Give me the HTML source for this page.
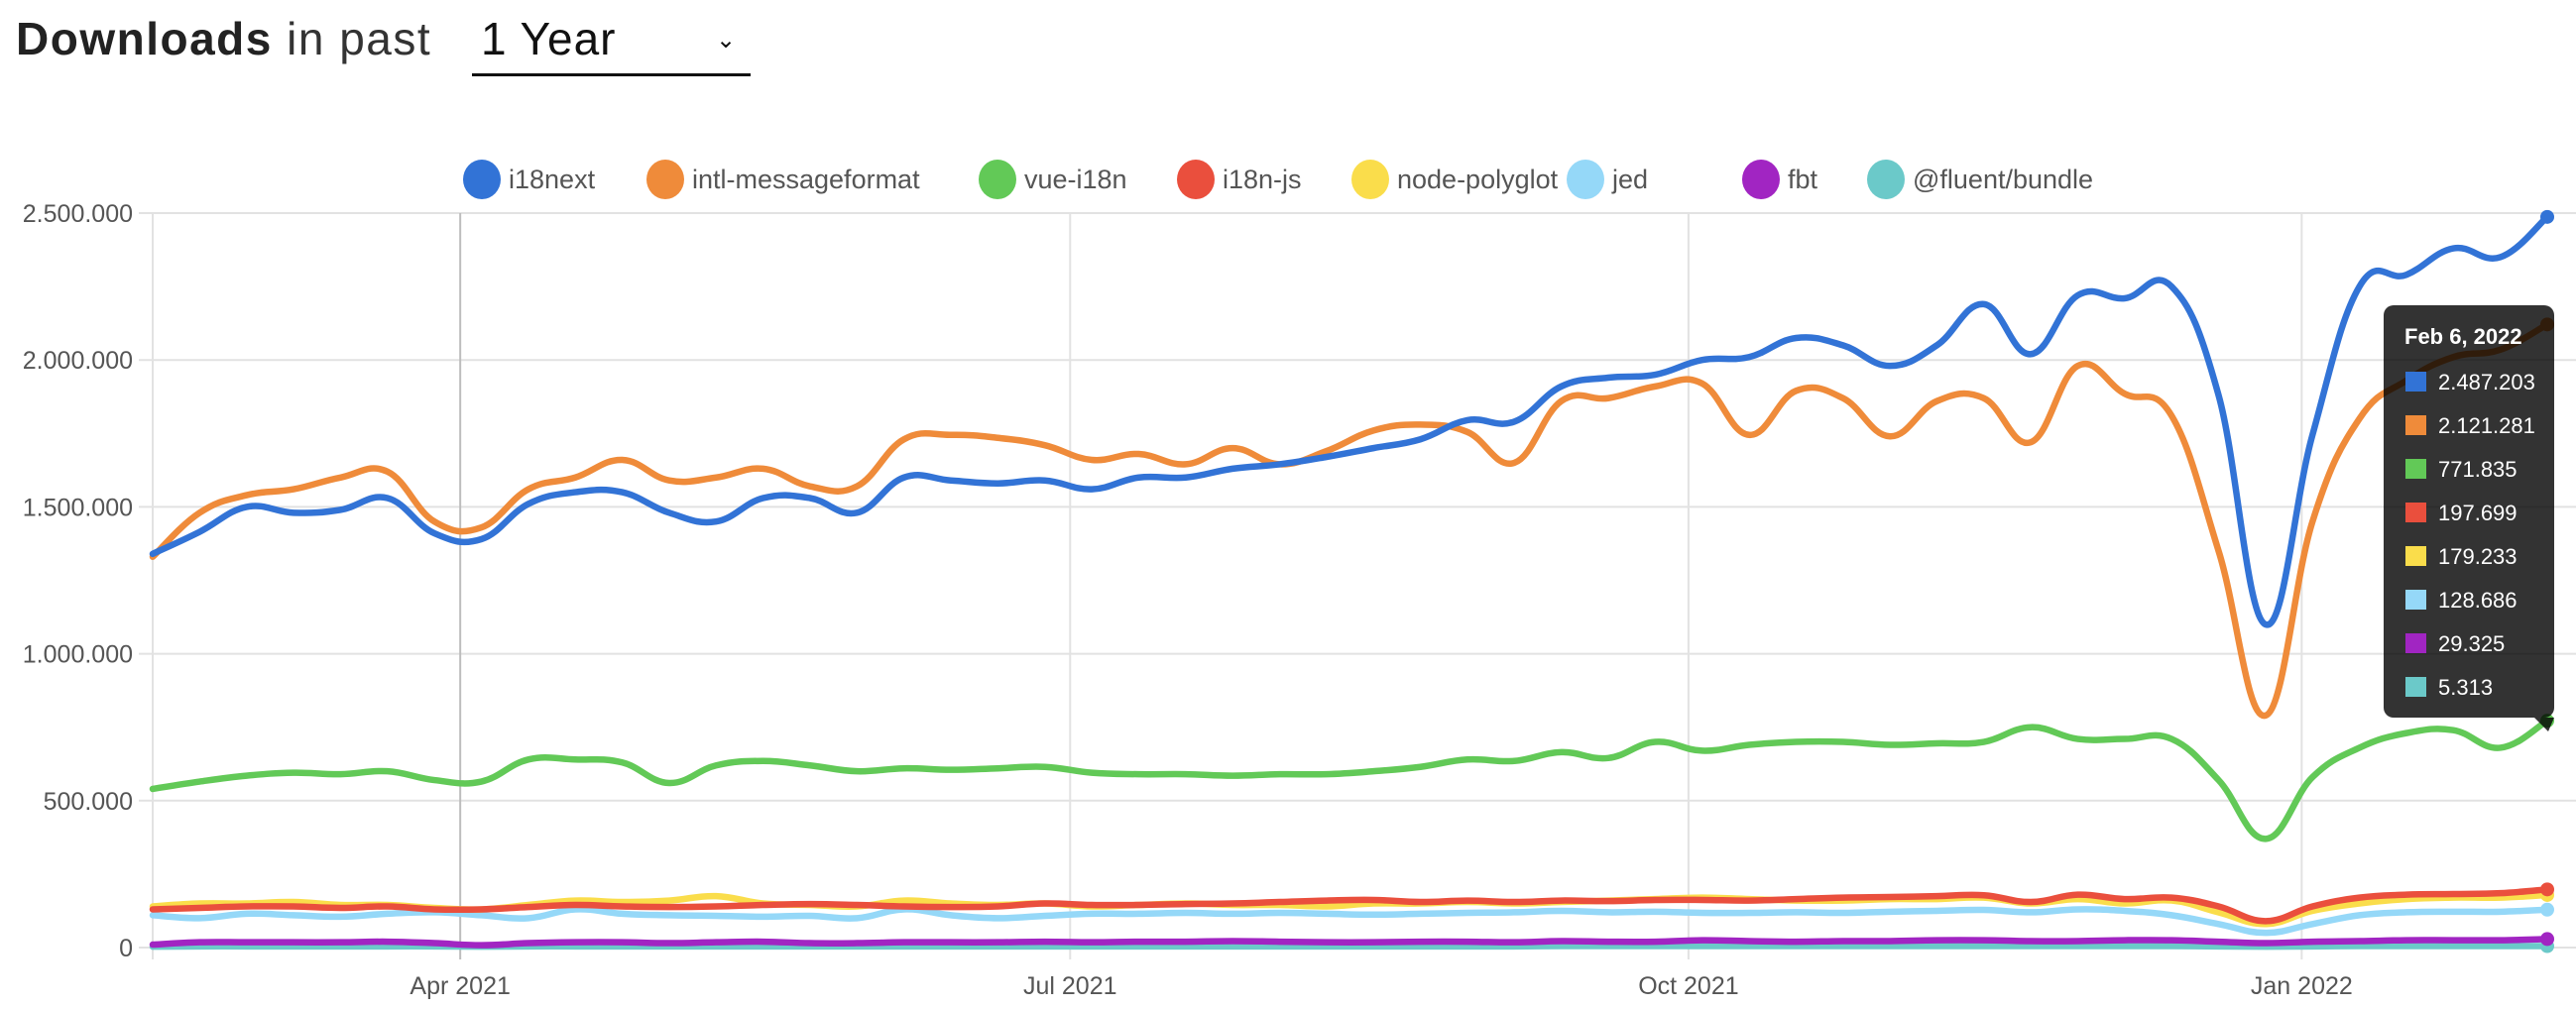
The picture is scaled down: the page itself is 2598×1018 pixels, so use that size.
<!DOCTYPE html>
<html><head><meta charset="utf-8">
<style>
html,body{margin:0;padding:0;background:#fff;width:2598px;height:1018px;overflow:hidden;font-family:"Liberation Sans",sans-serif;}
#title{position:absolute;left:16px;top:12px;font-size:46px;color:#222;letter-spacing:1.5px;white-space:nowrap}
#title b{font-weight:600}
#title .light{font-weight:300;color:#333}
#sel{position:absolute;left:476px;top:10px;width:281px;height:64px;border-bottom:3px solid #111;font-size:46px;color:#111;}
#sel span.t{position:absolute;left:9px;top:2px;letter-spacing:1px}
#sel span.c{position:absolute;left:246px;top:16px;font-size:24px}
svg{position:absolute;left:0;top:0}
</style></head><body>
<div id="title"><b>Downloads</b> <span class="light">in past</span></div>
<div id="sel"><span class="t">1 Year</span><span class="c">&#8964;</span></div>
<svg id="chart" width="2598" height="1018"></svg>
<script>
const seriesNames=["i18next","intl-messageformat","vue-i18n","i18n-js","node-polyglot","jed","fbt","@fluent/bundle"];
const seriesColors=["#3273d6","#ef8b3a","#62c957","#ea4f3d","#fadd4b","#95d8f8","#a125c2","#6bc9c9"];
const i18next=[1340,1415,1500,1480,1490,1530,1410,1390,1510,1550,1550,1480,1450,1530,1530,1480,1600,1590,1580,1590,1560,1600,1600,1630,1645,1670,1700,1730,1795,1790,1910,1940,1950,2000,2010,2075,2050,1980,2050,2190,2020,2220,2210,2250,1880,1100,1745,2250,2290,2380,2350,2487];
const intlMessageformat=[1330,1480,1540,1560,1600,1620,1450,1430,1560,1600,1660,1590,1600,1630,1570,1570,1730,1745,1735,1710,1660,1680,1645,1700,1645,1690,1760,1780,1755,1650,1860,1870,1910,1920,1745,1895,1870,1740,1860,1870,1720,1980,1885,1810,1350,790,1450,1800,1930,2010,2035,2121];
const vueI18n=[540,565,585,595,590,600,570,565,640,640,630,560,620,635,620,600,610,605,610,615,595,590,590,585,590,590,600,615,640,635,665,645,700,670,690,700,700,690,695,700,750,710,710,710,570,370,580,680,730,740,680,772];
const i18nJs=[130,135,140,140,135,140,130,130,138,145,140,138,140,145,148,145,140,138,140,150,145,145,148,150,155,160,162,155,160,155,160,158,162,162,160,165,170,172,175,178,155,180,165,170,140,90,140,170,180,182,185,198];
const nodePolyglot=[140,150,150,155,145,145,135,130,145,160,155,160,175,150,145,140,160,150,145,150,140,145,150,145,145,140,150,150,155,150,155,160,165,170,165,160,160,165,165,170,150,165,150,160,120,80,125,150,165,170,170,179];
const jed=[110,100,115,110,105,115,120,110,100,130,115,110,108,105,108,100,130,110,100,108,115,115,118,115,118,115,112,115,118,120,125,120,122,118,118,120,118,122,125,128,120,130,125,110,80,50,80,110,120,122,122,129];
const fbt=[10,18,18,18,18,20,15,8,15,18,18,15,18,20,15,15,18,18,18,20,18,20,20,22,20,18,18,20,20,18,22,20,20,25,22,20,22,22,25,25,22,22,25,25,20,15,20,22,25,25,25,29];
const fluentBundle=[3,4,4,4,4,4,4,3,4,4,4,4,4,4,4,4,4,4,4,4,4,4,4,4,4,4,4,4,4,4,5,5,5,5,5,5,5,5,5,5,5,5,5,5,4,3,4,5,5,5,5,5];
const seriesData=[i18next,intlMessageformat,vueI18n,i18nJs,nodePolyglot,jed,fbt,fluentBundle];
const yTicks=[0,500000,1000000,1500000,2000000,2500000];
const yTickLabels=["0","500.000","1.000.000","1.500.000","2.000.000","2.500.000"];
const xTickWeeks=[6.55,19.54,32.71,45.77];
const xTickLabels=["Apr 2021","Jul 2021","Oct 2021","Jan 2022"];
const tooltipDate="Feb 6, 2022";
const tooltipValues=["2.487.203","2.121.281","771.835","197.699","179.233","128.686","29.325","5.313"];

const NS="http://www.w3.org/2000/svg";
const svg=document.getElementById('chart');
const L=154,R=2569,T=215,B=956;
const nPts=i18next.length;
function xScale(i){return L+(R-L)*i/(nPts-1);}
function yScale(v){return B-(B-T)*v/2500000;}
function mk(tag,attrs,parent){const e=document.createElementNS(NS,tag);for(const k in attrs)e.setAttribute(k,attrs[k]);(parent||svg).appendChild(e);return e;}

yTicks.forEach((t,i)=>{
  const g=mk('line',{x1:140,x2:2598,y1:yScale(t),y2:yScale(t),stroke:'#e2e2e2','stroke-width':2});
  
  
  const tx=mk('text',{x:134,y:yScale(t)+9,'text-anchor':'end','font-size':25,fill:'#555'});
  tx.textContent=yTickLabels[i];
  
  
});
mk('line',{x1:L,x2:L,y1:T,y2:B+12,stroke:'#e2e2e2','stroke-width':2});
xTickWeeks.forEach((w,i)=>{
  const x=xScale(w);
  const g=mk('line',{x1:x,x2:x,y1:T,y2:B+12,stroke:i==0?'#bdbdbd':'#e2e2e2','stroke-width':2});
  
  
  const tx=mk('text',{x:x,y:1003,'text-anchor':'middle','font-size':25,fill:'#555'});
  tx.textContent=xTickLabels[i];
  
  
});

function pathFor(arr){
  const p=arr.map((v,i)=>[xScale(i),yScale(v*1000)]);
  let d='M'+p[0][0]+','+p[0][1];
  for(let i=0;i<p.length-1;i++){
    const p0=p[Math.max(0,i-1)],p1=p[i],p2=p[i+1],p3=p[Math.min(p.length-1,i+2)];
    const t=0.2;
    const c1=[p1[0]+(p2[0]-p0[0])*t,p1[1]+(p2[1]-p0[1])*t];
    const c2=[p2[0]-(p3[0]-p1[0])*t,p2[1]-(p3[1]-p1[1])*t];
    d+=' C'+c1[0]+','+c1[1]+' '+c2[0]+','+c2[1]+' '+p2[0]+','+p2[1];
  }
  return d;
}
for(let s=seriesData.length-1;s>=0;s--){
  const arr=seriesData[s];
  const ln=mk('path',{d:pathFor(arr),fill:'none',stroke:seriesColors[s],'stroke-width':6.5,'stroke-linejoin':'round','stroke-linecap':'round'});
  
  
  const dot=mk('circle',{cx:xScale(nPts-1),cy:yScale(arr[nPts-1]*1000),r:7,fill:seriesColors[s]});
  
  
}

const legendX=[486,671,1006,1206,1382,1599,1776,1902];
seriesNames.forEach((n,i)=>{
  const g=mk('g',{});
  
  
  mk('ellipse',{cx:legendX[i],cy:181,rx:19,ry:20,fill:seriesColors[i]},g);
  const t=mk('text',{x:legendX[i]+27,y:190,'font-size':27,fill:'#555'},g);
  t.textContent=n;
});

const tg=mk('g',{});


mk('rect',{x:2404,y:308,width:172,height:416,rx:10,fill:'rgba(0,0,0,0.8)'},tg);
mk('path',{d:'M2556,724 L2570,738 L2576,724 Z',fill:'rgba(0,0,0,0.8)'},tg);
const td=mk('text',{x:2425,y:347,'font-size':22,'font-weight':'bold',fill:'#fff'},tg);
td.textContent=tooltipDate;
tooltipValues.forEach((v,i)=>{
  const y=385+i*44;
  mk('rect',{x:2426,y:y-10,width:21,height:20,fill:seriesColors[i]},tg);
  const t=mk('text',{x:2459,y:y+8,'font-size':22,fill:'#fff'},tg);
  t.textContent=v;
});
</script>
</body></html>
